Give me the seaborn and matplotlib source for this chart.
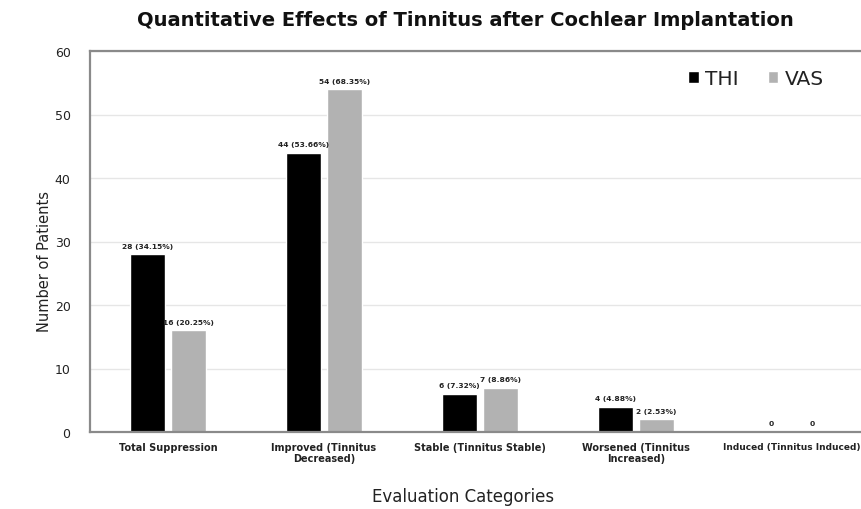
import matplotlib
matplotlib.use("Agg")
import matplotlib.pyplot as plt
import seaborn as sns
import pandas as pd

categories = ["Total Suppression", "Improved (Tinnitus\nDecreased)", "Stable (Tinnitus Stable)",
              "Worsened (Tinnitus\nIncreased)", "Induced (Tinnitus Induced)"]
thi_values = [28, 44, 6, 4, 0]
vas_values = [16, 54, 7, 2, 0]
thi_labels = ["28 (34.15%)", "44 (53.66%)", "6 (7.32%)", "4 (4.88%)", "0"]
vas_labels = ["16 (20.25%)", "54 (68.35%)", "7 (8.86%)", "2 (2.53%)", "0"]
series = ["THI", "VAS"]
colors = {"THI": "#000000", "VAS": "#b2b2b2"}

df = pd.DataFrame({
    "Category": categories * 2,
    "Count": thi_values + vas_values,
    "Series": ["THI"] * len(categories) + ["VAS"] * len(categories),
})

sns.set_theme(style="white")
plt.rcParams["font.family"] = ["DejaVu Sans"]

fig = plt.figure(figsize=(8.61, 5.10), dpi=100)
ax = fig.add_axes([90/861, 1-433/510, 780/861, 381/510])

sns.barplot(data=df, x="Category", y="Count", hue="Series", hue_order=series,
            palette=colors, width=0.53, gap=0.15, ax=ax, order=categories,
            saturation=1, legend=True)

for cont, labs in zip(ax.containers, [thi_labels, vas_labels]):
    ax.bar_label(cont, labels=labs, padding=4, fontsize=5.4, fontweight="bold", color="#222222")

ax.set_ylim(0, 60)
ax.set_yticks(range(0, 61, 10))
ax.yaxis.grid(True, color="#e6e6e6", linewidth=1)
ax.set_axisbelow(True)
for s in ["left", "top", "bottom", "right"]:
    ax.spines[s].set_color("#8a8a8a")
    ax.spines[s].set_linewidth(1.6)
ax.tick_params(axis="y", length=0, pad=14, labelsize=9, labelcolor="#222222")
ax.tick_params(axis="x", length=0, pad=7, labelsize=7, labelcolor="#222222")
for t in ax.get_xticklabels():
    t.set_fontweight("bold")
ax.get_xticklabels()[-1].set_fontsize(6.5)
ax.set_xlabel("")
ax.set_ylabel("")

leg = ax.legend(loc="upper left", bbox_to_anchor=(0.744, 1.0), ncol=2, frameon=False,
                fontsize=14.5, handlelength=0.5, handleheight=0.5, handletextpad=0.3,
                columnspacing=1.5, labelcolor="#222222")

fig.text(465/861, 1-20/510, "Quantitative Effects of Tinnitus after Cochlear Implantation",
         ha="center", va="center", fontsize=14, fontweight="bold", color="#111111")
fig.text(463/861, 1-497/510, "Evaluation Categories", ha="center", va="center",
         fontsize=12, color="#222222")
fig.text(45/861, 1-262/510, "Number of Patients", ha="center", va="center",
         rotation=90, fontsize=10.5, color="#222222")

fig.savefig("out.png", dpi=100)
